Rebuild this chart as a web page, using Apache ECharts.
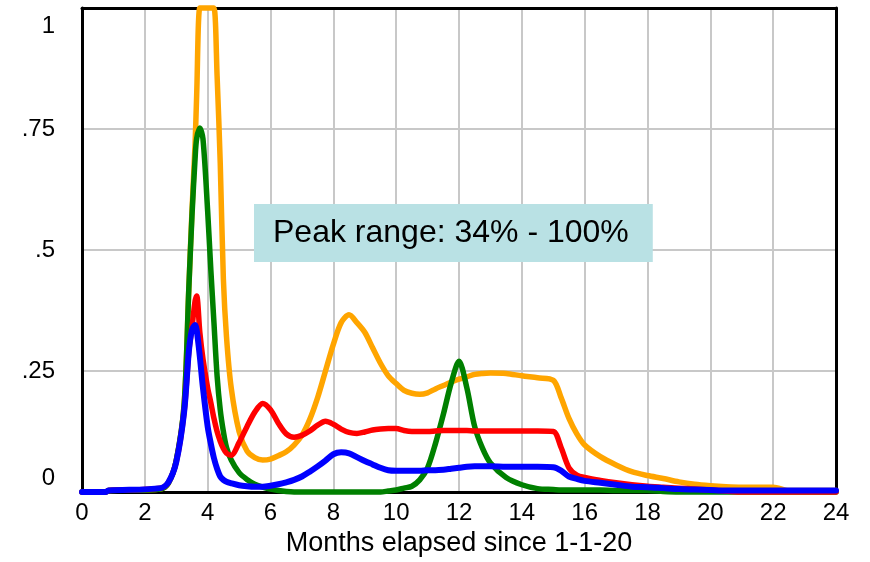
<!DOCTYPE html>
<html>
<head>
<meta charset="utf-8">
<script src="https://cdn.jsdelivr.net/npm/echarts@6/dist/echarts.min.js"></script>
<style>
  html, body { margin: 0; padding: 0; background: #ffffff; }
  #chart { width: 870px; height: 562px; }
</style>
</head>
<body>
<div id="chart"></div>
<script>
// Sample times (months elapsed since 1-1-20)
const months = [0, 0.75, 0.85, 2.5, 2.75, 3, 3.25, 3.4, 3.5, 3.6, 3.65, 3.75, 3.85, 4, 4.1, 4.2, 4.3, 4.4, 4.5, 4.6, 4.75,
  5, 5.25, 5.5, 5.75, 6, 6.25, 6.5, 6.75, 7, 7.25, 7.5, 7.75, 8, 8.25, 8.5, 8.75, 9, 9.25, 9.5, 9.75,
  10, 10.25, 10.5, 10.75, 11, 11.25, 11.5, 11.75, 12, 12.25, 12.5, 12.75, 13, 13.5, 14, 14.5, 15, 15.25, 15.5, 15.75,
  16, 16.5, 17, 17.5, 18, 18.5, 19, 19.5, 20, 20.5, 21, 22, 22.5, 23, 24];

const orangeRun = [0, 0, 0.003, 0.006, 0.018, 0.065, 0.18, 0.42, 0.58, 0.72, 0.82, 1.0, 1.0, 1.0, 1.0, 1.0, 0.86, 0.68, 0.44, 0.32, 0.215,
  0.125, 0.085, 0.071, 0.066, 0.068, 0.075, 0.083, 0.097, 0.117, 0.15, 0.195, 0.25, 0.305, 0.35, 0.366, 0.35, 0.33, 0.298, 0.266, 0.24,
  0.224, 0.21, 0.204, 0.202, 0.205, 0.213, 0.22, 0.227, 0.233, 0.238, 0.243, 0.245, 0.246, 0.245, 0.24, 0.236, 0.231, 0.195, 0.152, 0.12,
  0.097, 0.073, 0.056, 0.042, 0.034, 0.028, 0.021, 0.016, 0.013, 0.011, 0.01, 0.01, 0.003, 0.003, 0.003];

const greenRun = [0, 0, 0.003, 0.006, 0.018, 0.065, 0.18, 0.42, 0.57, 0.69, 0.73, 0.752, 0.73, 0.58, 0.46, 0.35, 0.24, 0.17, 0.125, 0.092, 0.066,
  0.04, 0.026, 0.016, 0.01, 0.006, 0.003, 0.001, 0, 0, 0, 0, 0, 0, 0, 0, 0, 0, 0, 0, 0.002,
  0.004, 0.008, 0.012, 0.025, 0.05, 0.1, 0.16, 0.225, 0.27, 0.215, 0.135, 0.09, 0.06, 0.03, 0.015, 0.007, 0.005, 0.004, 0.004, 0.004,
  0.004, 0.004, 0.003, 0.003, 0.003, 0.001, 0, 0, 0, 0, 0, 0, 0, 0, 0];

const redRun = [0, 0, 0.003, 0.008, 0.02, 0.062, 0.165, 0.29, 0.34, 0.395, 0.405, 0.33, 0.275, 0.215, 0.185, 0.152, 0.125, 0.105, 0.09, 0.08, 0.076,
  0.102, 0.135, 0.165, 0.183, 0.17, 0.142, 0.12, 0.113, 0.117, 0.126, 0.138, 0.146, 0.14, 0.13, 0.123, 0.121, 0.124, 0.128, 0.13, 0.131,
  0.131, 0.127, 0.125, 0.125, 0.125, 0.126, 0.127, 0.127, 0.127, 0.127, 0.126, 0.126, 0.126, 0.126, 0.126, 0.126, 0.125, 0.092, 0.05, 0.035,
  0.03, 0.024, 0.019, 0.015, 0.012, 0.01, 0.008, 0.006, 0.004, 0.002, 0, 0, 0, 0, 0];

const blueRun = [0, 0, 0.003, 0.008, 0.02, 0.062, 0.165, 0.29, 0.335, 0.345, 0.335, 0.28, 0.215, 0.135, 0.1, 0.07, 0.048, 0.032, 0.025, 0.021, 0.018,
  0.014, 0.012, 0.011, 0.011, 0.013, 0.016, 0.02, 0.025, 0.032, 0.042, 0.053, 0.065, 0.078, 0.082, 0.08, 0.072, 0.064, 0.057, 0.05, 0.045,
  0.044, 0.044, 0.044, 0.044, 0.045, 0.045, 0.046, 0.048, 0.05, 0.052, 0.053, 0.053, 0.053, 0.052, 0.052, 0.052, 0.051, 0.044, 0.032, 0.027,
  0.023, 0.019, 0.015, 0.011, 0.01, 0.008, 0.006, 0.005, 0.004, 0.003, 0.003, 0.003, 0.003, 0.003, 0.003];

// Axis tick labels
const xTickValues = [0, 2, 4, 6, 8, 10, 12, 14, 16, 18, 20, 22, 24];
const yTickValues = [0, 0.25, 0.5, 0.75, 1];
const yTickLabels = ['0', '.25', '.5', '.75', '1'];

const xTitle = 'Months elapsed since 1-1-20';
const noteText = 'Peak range: 34% - 100%';

const FONT = '"Liberation Sans", Arial, Helvetica, sans-serif';
const FRAME = { show: true, onZero: false, lineStyle: { color: '#000000', width: 3 } };
const GRIDLINE = { show: true, lineStyle: { color: '#c8c8c8', width: 2 } };

function pairs(ys) {
  return months.map((m, i) => [m, ys[i]]);
}

function lineSeries(name, color, ys, width) {
  return {
    name: name,
    type: 'line',
    data: pairs(ys),
    showSymbol: false,
    symbol: 'none',
    smooth: 0.3,
    clip: false,
    z: 3,
    lineStyle: { color: color, width: width, cap: 'round', join: 'round' },
    animation: false
  };
}

const chart = echarts.init(document.getElementById('chart'), null, { renderer: 'canvas' });

chart.setOption({
  animation: false,
  backgroundColor: '#ffffff',
  textStyle: { fontFamily: FONT },
  title: {
    text: noteText,
    left: 254,
    top: 204,
    padding: [13, 24, 13, 19],
    backgroundColor: '#b9e1e4',
    textStyle: { fontFamily: FONT, fontSize: 32, fontWeight: 'normal', color: '#000000' }
  },
  grid: { left: 82, right: 34, top: 8, bottom: 70 },
  xAxis: [{
    type: 'value',
    position: 'bottom',
    min: 0, max: 24, interval: 2,
    name: xTitle,
    nameLocation: 'middle',
    nameGap: 30,
    nameTextStyle: { fontFamily: FONT, fontSize: 27, color: '#000000' },
    axisLine: FRAME,
    axisTick: { show: false },
    axisLabel: { margin: 9, fontFamily: FONT, fontSize: 24, color: '#000000' },
    splitLine: GRIDLINE
  }, {
    // top edge of the frame
    type: 'value',
    position: 'top',
    min: 0, max: 24, interval: 2,
    axisLine: FRAME,
    axisTick: { show: false },
    axisLabel: { show: false },
    splitLine: { show: false }
  }],
  yAxis: [{
    type: 'value',
    position: 'left',
    min: 0, max: 1, interval: 0.25,
    axisLine: FRAME,
    axisTick: { show: false },
    axisLabel: {
      margin: 27,
      color: '#000000',
      formatter: function (v) {
        const i = yTickValues.indexOf(v);
        const t = i >= 0 ? yTickLabels[i] : '';
        if (v === 1) return '{top|' + t + '}';
        if (v === 0) return '{bot|' + t + '}';
        return '{mid|' + t + '}';
      },
      rich: {
        top: { fontFamily: FONT, fontSize: 24, color: '#000000', padding: [36, 0, 0, 0] },
        bot: { fontFamily: FONT, fontSize: 24, color: '#000000', padding: [0, 0, 28, 0] },
        mid: { fontFamily: FONT, fontSize: 24, color: '#000000' }
      }
    },
    splitLine: GRIDLINE
  }, {
    // right edge of the frame
    type: 'value',
    position: 'right',
    min: 0, max: 1, interval: 0.25,
    axisLine: FRAME,
    axisTick: { show: false },
    axisLabel: { show: false },
    splitLine: { show: false }
  }],
  series: [
    lineSeries('Run A', '#ffa500', orangeRun, 5.5),
    lineSeries('Run B', '#008000', greenRun, 5.5),
    lineSeries('Run C', '#ff0000', redRun, 5.5),
    lineSeries('Run D', '#0000ff', blueRun, 6)
  ]
});
</script>
</body>
</html>
